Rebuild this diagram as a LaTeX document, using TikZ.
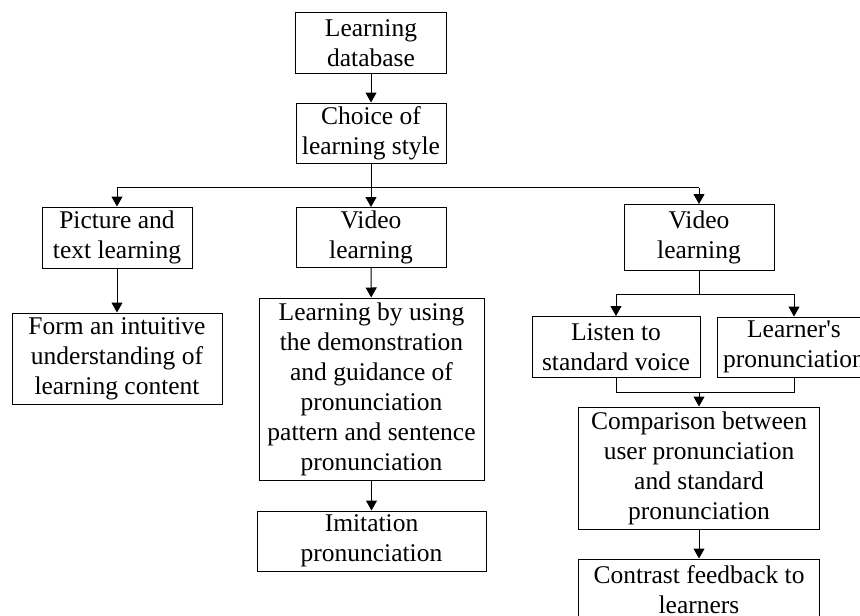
\documentclass[tikz,border=0pt]{standalone}
\usepackage{fontspec}
\setmainfont{Liberation Serif}
\newfontfamily\libserif{Liberation Serif}
\usetikzlibrary{arrows.meta}
\tikzset{
  box/.style={draw=black, line width=1pt, inner sep=0pt, align=center,
    font=\libserif\fontsize{25.5}{30}\selectfont, anchor=center},
  arr/.style={line width=1pt, -{Triangle[length=10pt,width=11pt]}},
  ln/.style={line width=1pt},
}
\begin{document}
\begin{tikzpicture}[x=1pt,y=-1pt]
\useasboundingbox (0,0) rectangle (860,616);
\clip (0,0) rectangle (860,616);
\node[box, minimum width=151pt, minimum height=61pt] (db) at (371,43) {Learning\\database};
\node[box, minimum width=150pt, minimum height=60pt] (choice) at (371,133) {Choice of\\learning style};
\node[box, minimum width=150pt, minimum height=61pt] (pic) at (117,237.5) {Picture and\\text learning};
\node[box, minimum width=150pt, minimum height=60pt] (vidA) at (371,237.5) {Video\\learning};
\node[box, minimum width=150pt, minimum height=66pt] (vidB) at (699,237.5) {Video\\learning};
\node[box, minimum width=210pt, minimum height=91pt] (form) at (117,358.5) {Form an intuitive\\understanding of\\learning content};
\node[box, minimum width=225pt, minimum height=182pt] (lbu) at (371.5,389) {Learning by using\\the demonstration\\and guidance of\\pronunciation\\pattern and sentence\\pronunciation};
\node[box, minimum width=229pt, minimum height=60pt] (imit) at (371.5,541) {Imitation\\pronunciation};
\node[box, minimum width=168pt, minimum height=61pt] (listen) at (616,347) {Listen to\\standard voice};
\node[box, minimum width=154pt, minimum height=60pt] (learner) at (794,347) {Learner's\\pronunciation};
\node[box, minimum width=241pt, minimum height=122pt] (comp) at (699,468) {Comparison between\\user pronunciation\\and standard\\pronunciation};
\node[box, minimum width=241pt, minimum height=62pt] (contrast) at (699,590) {Contrast feedback to\\learners};

\coordinate (busA) at (371,187.5);
\coordinate (busB) at (699,294);
\coordinate (busC) at (699,392);

\draw[arr] (db) -- (choice);
\draw[arr] (choice) -- (vidA);
\draw[ln] (pic.north |- busA) -- (vidB.north |- busA);
\draw[arr] (pic.north |- busA) -- (pic.north);
\draw[arr] (vidB.north |- busA) -- (vidB.north);
\draw[arr] (pic) -- (form);
\draw[arr] (vidA) -- (lbu);
\draw[arr] (lbu) -- (imit);
\draw[ln] (vidB.south) -- (busB);
\draw[ln] (listen.north |- busB) -- (learner.north |- busB);
\draw[arr] (listen.north |- busB) -- (listen.north);
\draw[arr] (learner.north |- busB) -- (learner.north);
\draw[ln] (listen.south) -- (listen.south |- busC) -- (learner.south |- busC) -- (learner.south);
\draw[arr] (busC) -- (comp.north);
\draw[arr] (comp) -- (contrast);
\end{tikzpicture}
\end{document}
